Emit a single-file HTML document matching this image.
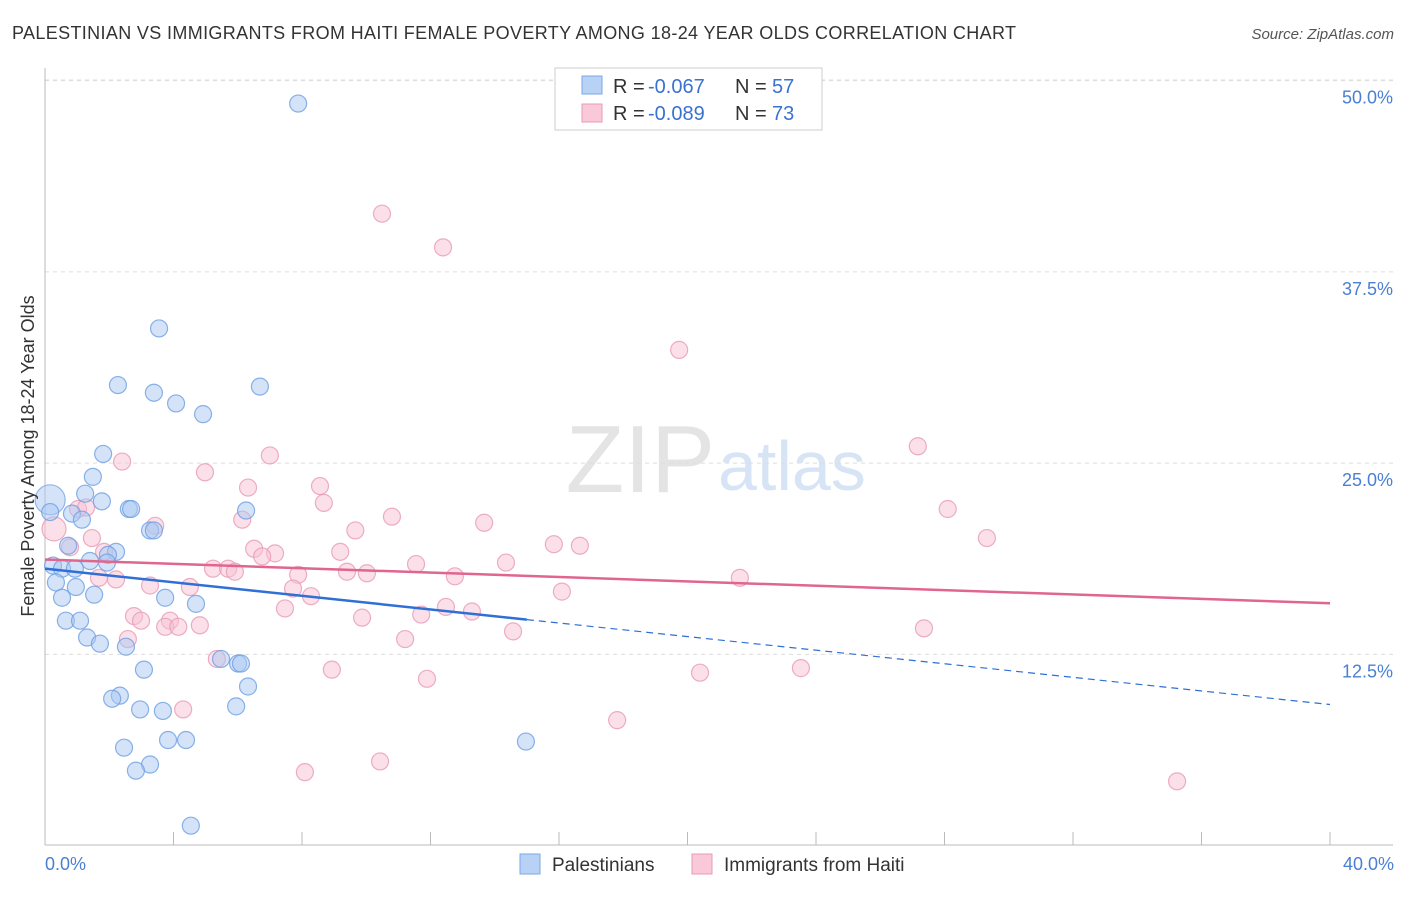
<!DOCTYPE html>
<html><head><meta charset="utf-8"><style>
body{margin:0;background:#fff;font-family:"Liberation Sans",sans-serif;}
svg text{font-family:"Liberation Sans",sans-serif;}
</style></head><body>
<svg id="chart" width="1406" height="892" viewBox="0 0 1406 892">
<text x="12" y="39" font-size="18" textLength="1004" fill="#333">PALESTINIAN VS IMMIGRANTS FROM HAITI FEMALE POVERTY AMONG 18-24 YEAR OLDS CORRELATION CHART</text>
<text x="1394" y="39" font-size="15" fill="#555" font-style="italic" text-anchor="end">Source: ZipAtlas.com</text>
<text x="715" y="492" font-size="96" fill="#e4e4e4" text-anchor="end" font-family="Liberation Serif">ZIP</text>
<text x="718" y="490" font-size="70" fill="#d7e4f5">atlas</text>
<g id="grid"></g>
<g id="axes"></g>
<g id="pts"></g>
<g id="lines"></g>
<text transform="translate(34,456) rotate(-90)" font-size="18" fill="#333" text-anchor="middle">Female Poverty Among 18-24 Year Olds</text>
<text x="45" y="870" font-size="18" fill="#4a7fd4">0.0%</text>
<text x="1394" y="870" font-size="18" fill="#4a7fd4" text-anchor="end">40.0%</text>
<g>
<rect x="555" y="68" width="267" height="62" fill="#fff" stroke="#ccc"/>
<rect x="582" y="76" width="20" height="18" fill="#b8d2f6" stroke="#7aa8e6"/>
<rect x="582" y="104" width="20" height="18" fill="#f9c9d9" stroke="#e89ab5"/>
<text x="613" y="93" font-size="20" fill="#333">R =</text><text x="648" y="93" font-size="20" fill="#3a72d0">-0.067</text>
<text x="735" y="93" font-size="20" fill="#333">N =</text><text x="772" y="93" font-size="20" fill="#3a72d0">57</text>
<text x="613" y="120" font-size="20" fill="#333">R =</text><text x="648" y="120" font-size="20" fill="#3a72d0">-0.089</text>
<text x="735" y="120" font-size="20" fill="#333">N =</text><text x="772" y="120" font-size="20" fill="#3a72d0">73</text>
</g>
<g>
<rect x="520" y="854" width="20" height="20" fill="#b8d2f6" stroke="#7aa8e6"/>
<text x="552" y="871" font-size="19" fill="#333">Palestinians</text>
<rect x="692" y="854" width="20" height="20" fill="#f9c9d9" stroke="#e89ab5"/>
<text x="724" y="871" font-size="19" fill="#333">Immigrants from Haiti</text>
</g>
</svg>
<script>
const yTicks=[12.5,25,37.5,50];
const yTickLabels=["12.5%","25.0%","37.5%","50.0%"];
const xTicks=[0,4,8,12,16,20,24,28,32,36,40];
const blueX=[7.88,3.55,2.27,6.69,3.39,4.08,4.92,1.81,1.49,1.25,1.77,2.61,2.68,6.26,0.84,1.15,3.27,3.39,0.16,0.72,2.21,1.96,1.40,1.93,0.25,0.53,0.93,0.34,0.96,1.53,0.53,3.74,4.70,0.65,1.09,1.31,1.71,2.52,5.48,6.01,6.10,3.08,6.32,2.33,2.09,2.96,3.67,5.95,3.83,4.39,2.46,14.97,3.27,2.83,4.54];
const blueY=[48.5,33.8,30.1,30.0,29.6,28.9,28.2,25.6,24.1,23.0,22.5,22.0,22.0,21.9,21.7,21.3,20.6,20.6,21.8,19.6,19.2,19.0,18.6,18.5,18.3,18.1,18.1,17.2,16.9,16.4,16.2,16.2,15.8,14.7,14.7,13.6,13.2,13.0,12.2,11.9,11.9,11.5,10.4,9.8,9.6,8.9,8.8,9.1,6.9,6.9,6.4,6.8,5.3,4.9,1.3];
const pinkX=[10.49,12.39,19.74,27.17,2.40,7.00,4.98,8.56,6.32,8.68,28.1,1.03,1.28,10.80,6.14,13.67,3.43,9.66,1.46,29.32,15.84,16.65,0.78,6.51,9.19,7.16,6.76,1.84,14.35,11.55,5.23,5.70,5.91,9.40,10.02,7.88,1.68,12.76,21.63,2.21,3.27,4.51,7.72,8.28,16.09,12.48,7.47,13.29,11.71,2.77,9.87,2.99,3.89,3.74,4.15,4.82,14.57,27.36,2.58,11.21,5.35,8.93,20.39,23.53,11.89,4.30,17.81,8.09,10.43,35.24];
const pinkY=[41.3,39.1,32.4,26.1,25.1,25.5,24.4,23.5,23.4,22.4,22.0,22.0,22.1,21.5,21.3,21.1,20.9,20.6,20.1,20.1,19.7,19.6,19.5,19.4,19.2,19.1,18.9,19.2,18.5,18.4,18.1,18.1,17.9,17.9,17.8,17.7,17.5,17.6,17.5,17.4,17.0,16.9,16.8,16.3,16.6,15.6,15.5,15.3,15.1,15.0,14.9,14.7,14.7,14.3,14.3,14.4,14.0,14.2,13.5,13.5,12.2,11.5,11.3,11.6,10.9,8.9,8.2,4.8,5.5,4.2];
const bigBlue=[0.16,22.6]; const bigPink=[0.28,20.7];
const blueFit=[18.1,-0.222]; const pinkFit=[18.7,-0.0715];
const blueSolidEnd=15;
const sx=v=>45+v/40*1285, sy=v=>845.6-v*15.3;
const NS="http://www.w3.org/2000/svg";
function mk(t,a,p){const e=document.createElementNS(NS,t);for(const k in a)e.setAttribute(k,a[k]);p.appendChild(e);return e;}
const gGrid=document.getElementById('grid'),gAxes=document.getElementById('axes'),gPts=document.getElementById('pts'),gLines=document.getElementById('lines');
yTicks.forEach((t,i)=>{
 const g=mk('line',{x1:45,x2:1393,y1:sy(t),y2:sy(t),stroke:'#ddd','stroke-dasharray':'4,4'},gGrid);
 
 
 const tx=mk('text',{x:1393,y:sy(t)+23,'font-size':18,fill:'#4a7fd4','text-anchor':'end'},gAxes);
 tx.textContent=yTickLabels[i];
 
 
});
const topLine=mk('line',{x1:45,x2:1393,y1:80,y2:80,stroke:'#ddd','stroke-dasharray':'4,4'},gGrid);


const ya=mk('line',{x1:45,x2:45,y1:68,y2:845,stroke:'#bbb'},gAxes);


const xa=mk('line',{x1:45,x2:1393,y1:845,y2:845,stroke:'#bbb'},gAxes);


xTicks.forEach(t=>{
 const l=mk('line',{x1:sx(t),x2:sx(t),y1:832,y2:845,stroke:'#bbb'},gAxes);
 
 
});
function dot(x,y,r,f,s,name){
 const c=mk('circle',{cx:sx(x),cy:sy(y),r:r,fill:f,'fill-opacity':0.5,stroke:s,'stroke-width':1.2,'stroke-opacity':0.8},gPts);
 
 
}
dot(bigBlue[0],bigBlue[1],15,'#a9c8f2','#7aa8e6','point-palestinian-large');
dot(bigPink[0],bigPink[1],12,'#f7c1d3','#e89ab5','point-haiti-large');
pinkX.forEach((x,i)=>dot(x,pinkY[i],8.5,'#f7c1d3','#e89ab5','point-haiti'));
blueX.forEach((x,i)=>dot(x,blueY[i],8.5,'#a9c8f2','#6e9fe2','point-palestinian'));
const fit=(p,x)=>p[0]+p[1]*x;
const bl=mk('line',{x1:sx(0),y1:sy(fit(blueFit,0)),x2:sx(blueSolidEnd),y2:sy(fit(blueFit,blueSolidEnd)),stroke:'#2f6fd6','stroke-width':2.5},gLines);


const bd=mk('line',{x1:sx(blueSolidEnd),y1:sy(fit(blueFit,blueSolidEnd)),x2:sx(40),y2:sy(fit(blueFit,40)),stroke:'#2f6fd6','stroke-width':1.2,'stroke-dasharray':'7,5'},gLines);


const pl=mk('line',{x1:sx(0),y1:sy(fit(pinkFit,0)),x2:sx(40),y2:sy(fit(pinkFit,40)),stroke:'#e0658f','stroke-width':2.5},gLines);


</script>
</body></html>
